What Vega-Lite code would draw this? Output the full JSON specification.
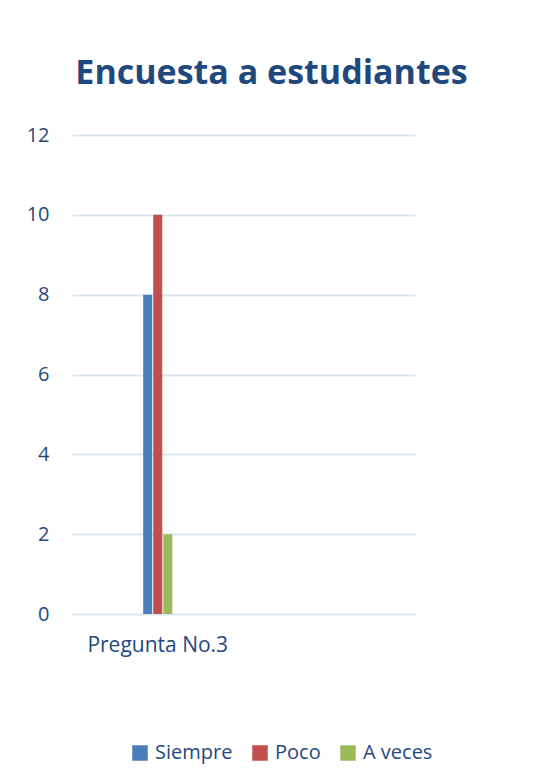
{
  "$schema": "https://vega.github.io/schema/vega-lite/v6.json",
  "autosize": "none",
  "width": 343,
  "height": 479,
  "padding": {"left": 72, "top": 135, "right": 121, "bottom": 169},
  "background": "white",
  "title": {
    "text": "Encuesta a estudiantes",
    "font": "Open Sans",
    "fontSize": 34,
    "fontWeight": "bold",
    "color": "#1F497D",
    "anchor": "middle",
    "frame": "group",
    "dx": 28,
    "offset": 34
  },
  "data": {
    "values": [
      {"pregunta": "Pregunta No.3", "serie": "Siempre", "valor": 8},
      {"pregunta": "Pregunta No.3", "serie": "Poco", "valor": 10},
      {"pregunta": "Pregunta No.3", "serie": "A veces", "valor": 2}
    ]
  },
  "mark": {"type": "bar"},
  "encoding": {
    "x": {
      "field": "pregunta",
      "type": "nominal",
      "scale": {"domain": ["Pregunta No.3", " "], "paddingInner": 0.83, "paddingOuter": 0.415},
      "axis": {
        "title": null,
        "domain": false,
        "ticks": false,
        "labelAngle": 0,
        "labelFont": "Open Sans",
        "labelFontSize": 21,
        "labelColor": "#1F497D",
        "labelPadding": 20
      }
    },
    "xOffset": {
      "field": "serie",
      "type": "nominal",
      "scale": {"domain": ["Siempre", "Poco", "A veces"], "paddingInner": 0.1, "paddingOuter": 0}
    },
    "y": {
      "field": "valor",
      "type": "quantitative",
      "scale": {"domain": [0, 12], "nice": false},
      "axis": {
        "title": null,
        "values": [0, 2, 4, 6, 8, 10, 12],
        "domain": false,
        "ticks": false,
        "grid": true,
        "gridColor": "#DCE6F2",
        "gridWidth": 2,
        "labelFont": "Open Sans",
        "labelFontSize": 20,
        "labelColor": "#1F497D",
        "labelPadding": 23
      }
    },
    "color": {
      "field": "serie",
      "type": "nominal",
      "scale": {"domain": ["Siempre", "Poco", "A veces"], "range": ["#4A7EBB", "#C0504D", "#9BBB59"]},
      "legend": {
        "title": null,
        "orient": "none",
        "direction": "horizontal",
        "legendX": 58,
        "legendY": 608,
        "symbolType": "square",
        "symbolSize": 240,
        "symbolStrokeWidth": 0,
        "symbolOpacity": 1,
        "labelFont": "Open Sans",
        "labelFontSize": 20,
        "labelColor": "#1F497D",
        "labelOffset": 5,
        "columnPadding": 17
      }
    }
  },
  "config": {
    "view": {"stroke": null}
  }
}
